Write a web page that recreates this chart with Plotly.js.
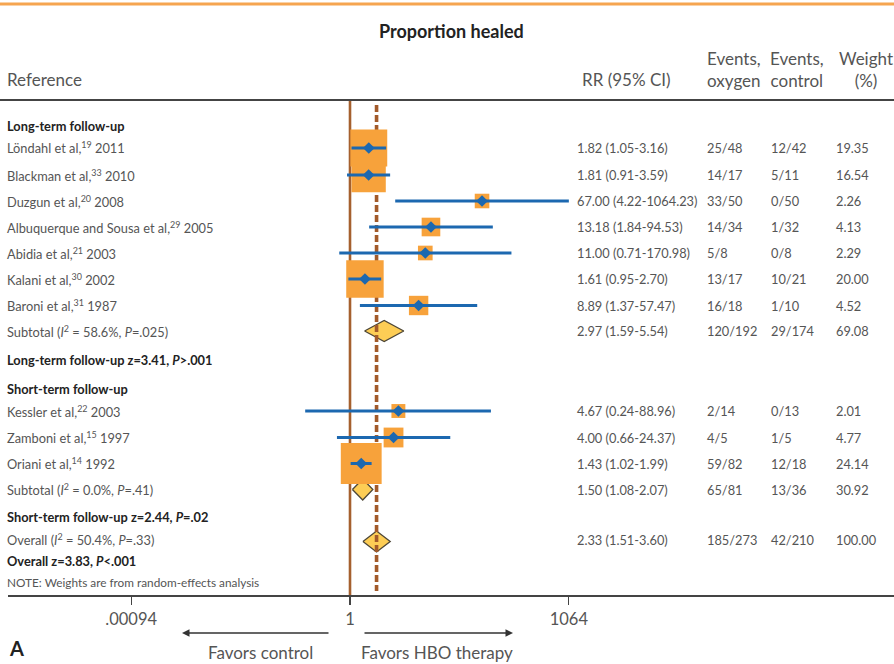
<!DOCTYPE html>
<html>
<head>
<meta charset="utf-8">
<script src="https://cdn.plot.ly/plotly-3.0.1.min.js"></script>
<style>html,body{margin:0;padding:0;background:#fff;}#chart{width:894px;height:664px;}</style>
</head>
<body>
<div id="chart"></div>
<script>
// ---------- data ----------
const longStudies = ["Löndahl et al,<sup>19</sup> 2011", "Blackman et al,<sup>33</sup> 2010", "Duzgun et al,<sup>20</sup> 2008",
  "Albuquerque and Sousa et al,<sup>29</sup> 2005", "Abidia et al,<sup>21</sup> 2003", "Kalani et al,<sup>30</sup> 2002", "Baroni et al,<sup>31</sup> 1987"];
const longRR = [1.82, 1.81, 67.00, 13.18, 11.00, 1.61, 8.89];
const longLo = [1.05, 0.91, 4.22, 1.84, 0.71, 0.95, 1.37];
const longHi = [3.16, 3.59, 1064.23, 94.53, 170.98, 2.70, 57.47];
const longEvO = ["25/48", "14/17", "33/50", "14/34", "5/8", "13/17", "16/18"];
const longEvC = ["12/42", "5/11", "0/50", "1/32", "0/8", "10/21", "1/10"];
const longW = [19.35, 16.54, 2.26, 4.13, 2.29, 20.00, 4.52];

const shortStudies = ["Kessler et al,<sup>22</sup> 2003", "Zamboni et al,<sup>15</sup> 1997", "Oriani et al,<sup>14</sup> 1992"];
const shortRR = [4.67, 4.00, 1.43];
const shortLo = [0.24, 0.66, 1.02];
const shortHi = [88.96, 24.37, 1.99];
const shortEvO = ["2/14", "4/5", "59/82"];
const shortEvC = ["0/13", "1/5", "12/18"];
const shortW = [2.01, 4.77, 24.14];

const pooledLabels = ["Subtotal (<i>I</i><sup>2</sup> = 58.6%, <i>P</i>=.025)", "Subtotal (<i>I</i><sup>2</sup> = 0.0%, <i>P</i>=.41)", "Overall (<i>I</i><sup>2</sup> = 50.4%, <i>P</i>=.33)"];
const pooledRR = [2.97, 1.50, 2.33];
const pooledLo = [1.59, 1.08, 1.51];
const pooledHi = [5.54, 2.07, 3.60];
const pooledEvO = ["120/192", "65/81", "185/273"];
const pooledEvC = ["29/174", "13/36", "42/210"];
const pooledW = [69.08, 30.92, 100.00];

const sectionLabels = ["Long-term follow-up", "Long-term follow-up z=3.41, <i>P</i>>.001", "Short-term follow-up",
  "Short-term follow-up z=2.44, <i>P</i>=.02", "Overall z=3.83, <i>P</i><.001"];
const tickVals = [0.00094, 1, 1064];
const tickText = [".00094", "1", "1064"];

// ---------- layout positions (pixels) ----------
const longPos = [148, 175, 201, 227, 253, 279, 305.5];
const shortPos = [411, 437.5, 463.5];
const pooledPos = [331, 489.5, 541.5];
const sectionPos = [126, 360, 388.5, 516.5, 560.5];

const W = 894, H = 664, L = 8, R = 0, T = 100, B = 69;
const yTop = T, yBot = H - B;
const pxPerDec = 72.3, x1px = 350;
const xr = [(L - x1px) / pxPerDec, (W - R - x1px) / pxPerDec];
function px(x) { return (x - L) / (W - L - R); }
function py(y) { return (yBot - y) / (yBot - yTop); }

const ORANGE = "#F7A23B", BLUE = "#1C68B0", BROWN = "#A25A2A", DIAM = "#FDCD55";
const TXT = "#555", DARK = "#222";
const FONT = "Lato, 'Open Sans', sans-serif";

const traces = [];

// pooled diamonds
pooledRR.forEach((r, i) => {
  const y = pooledPos[i], h = 10.5;
  traces.push({
    x: [pooledLo[i], r, pooledHi[i], r, pooledLo[i]],
    y: [y, y - h, y, y + h, y],
    mode: "lines", fill: "toself", fillcolor: DIAM,
    line: { color: "#4d4636", width: 1.3 }, hoverinfo: "skip", showlegend: false
  });
});

// reference lines
traces.push({ x: [1, 1], y: [yTop, yBot], mode: "lines", line: { color: "#A5602E", width: 2.6 }, hoverinfo: "skip", showlegend: false });
traces.push({ x: [pooledRR[2], pooledRR[2]], y: [105, 591], mode: "lines", line: { color: BROWN, width: 3.6, dash: "7px,3px" }, hoverinfo: "skip", showlegend: false });

// study boxes
const allRR = longRR.concat(shortRR), allLo = longLo.concat(shortLo), allHi = longHi.concat(shortHi);
const allW = longW.concat(shortW), allPos = longPos.concat(shortPos);
traces.push({
  x: allRR, y: allPos, mode: "markers",
  marker: { symbol: "square", color: ORANGE, opacity: 1, size: allW.map(w => 3 + 7.7 * Math.sqrt(w)), line: { width: 0 } },
  hoverinfo: "skip", showlegend: false
});
// CI lines
const cx = [], cy = [];
allRR.forEach((r, i) => { cx.push(allLo[i], allHi[i], null); cy.push(allPos[i], allPos[i], null); });
traces.push({ x: cx, y: cy, mode: "lines", line: { color: BLUE, width: 3 }, hoverinfo: "skip", showlegend: false });
// point estimates
traces.push({ x: allRR, y: allPos, mode: "markers", marker: { symbol: "diamond", color: BLUE, size: 9, opacity: 1 }, hoverinfo: "skip", showlegend: false });

// ---------- annotations ----------
const ann = [];
function txt(x, y, text, opts) {
  ann.push(Object.assign({
    xref: "paper", yref: "paper", x: px(x), y: py(y), text: text, showarrow: false,
    xanchor: "left", yanchor: "middle", borderpad: 0, font: { family: FONT, size: 12.8, color: TXT }
  }, opts || {}));
}
const colLab = 6, colRR = 576, colO = 706, colC = 770, colW = 835;
function row(y, label, r, lo, hi, eo, ec, w) {
  txt(colLab, y, label);
  txt(colRR, y, r.toFixed(2) + " (" + lo.toFixed(2) + "-" + hi.toFixed(2) + ")");
  txt(colO, y, eo); txt(colC, y, ec); txt(colW, y, w.toFixed(2));
}
longStudies.forEach((s, i) => row(longPos[i], s, longRR[i], longLo[i], longHi[i], longEvO[i], longEvC[i], longW[i]));
shortStudies.forEach((s, i) => row(shortPos[i], s, shortRR[i], shortLo[i], shortHi[i], shortEvO[i], shortEvC[i], shortW[i]));
pooledLabels.forEach((s, i) => row(pooledPos[i] - (i === 2 ? 2 : 0), s, pooledRR[i], pooledLo[i], pooledHi[i], pooledEvO[i], pooledEvC[i], pooledW[i]));
sectionLabels.forEach((s, i) => txt(colLab, sectionPos[i], "<b>" + s + "</b>", { font: { family: FONT, size: 12.8, color: DARK } }));
txt(colLab, 582, "NOTE: Weights are from random-effects analysis", { font: { family: FONT, size: 11.8, color: TXT } });

// headers
txt(451, 31, "<b>Proportion healed</b>", { xanchor: "center", font: { family: FONT, size: 18, color: DARK } });
const hf = { family: FONT, size: 17, color: TXT };
txt(colLab, 80, "Reference", { font: hf });
txt(626, 80, "RR (95% CI)", { xanchor: "center", font: hf });
txt(734, 69, "Events,<br>oxygen", { xanchor: "center", font: hf });
txt(797, 69, "Events,<br>control", { xanchor: "center", font: hf });
txt(866, 69, "Weight<br>(%)", { xanchor: "center", font: hf });

// arrows & favors text
ann.push({ xref: "paper", yref: "paper", x: px(182), y: py(633), ax: 148, ay: 0, text: "", showarrow: true, arrowhead: 2, arrowsize: 1, arrowwidth: 1.5, arrowcolor: "#333" });
ann.push({ xref: "paper", yref: "paper", x: px(513), y: py(633), ax: -150, ay: 0, text: "", showarrow: true, arrowhead: 2, arrowsize: 1, arrowwidth: 1.5, arrowcolor: "#333" });
txt(260, 652, "Favors control", { xanchor: "center", font: hf });
txt(437, 652, "Favors HBO therapy", { xanchor: "center", font: hf });
txt(8, 648, "<b>A</b>", { font: { family: FONT, size: 20, color: DARK } });

const layout = {
  width: W, height: H,
  margin: { l: L, r: R, t: T, b: B, pad: 0 },
  paper_bgcolor: "#fff", plot_bgcolor: "#fff",
  showlegend: false,
  xaxis: {
    type: "log", range: xr, tickvals: tickVals, ticktext: tickText,
    ticks: "outside", ticklen: 8, tickwidth: 1.2, tickcolor: "#444",
    showline: true, linecolor: "#444", linewidth: 2, showgrid: false, zeroline: false,
    tickfont: { family: FONT, size: 16.5, color: TXT }, fixedrange: true
  },
  yaxis: { range: [yBot, yTop], visible: false, showgrid: false, zeroline: false, fixedrange: true },
  annotations: ann,
  shapes: [
    { type: "line", xref: "paper", yref: "paper", x0: px(0), x1: 1, y0: py(100), y1: py(100), line: { color: "#444", width: 2 } },
    { type: "line", xref: "paper", yref: "paper", x0: px(0), x1: 1, y0: py(4), y1: py(4), line: { color: "#F6A550", width: 3 } }
  ]
};
Plotly.newPlot("chart", traces, layout, { displayModeBar: false, staticPlot: true });
</script>
</body>
</html>
